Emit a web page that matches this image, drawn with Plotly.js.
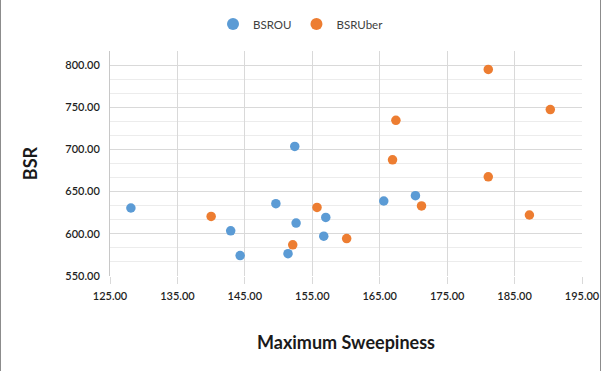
<!DOCTYPE html>
<html>
<head>
<meta charset="utf-8">
<script src="https://cdn.plot.ly/plotly-3.0.1.min.js"></script>
<style>
html,body{margin:0;padding:0;background:#fff;}
#chart{width:602px;height:371px;}
</style>
</head>
<body>
<div id="chart"></div>
<script>
// Series: BSROU
const ouSweep = [128.1, 142.9, 144.3, 149.6, 151.4, 152.4, 152.6, 156.7, 157.0, 165.6, 170.3];
const ouBSR   = [630.6, 603.6, 574.2, 635.7, 576.5, 703.6, 612.7, 597.2, 619.4, 638.9, 645.2];
// Series: BSRUber
const uberSweep = [140.0, 152.1, 155.7, 160.1, 166.9, 167.4, 171.2, 181.1, 181.1, 187.2, 190.3];
const uberBSR   = [620.6, 586.9, 631.3, 594.4, 687.7, 734.5, 633.0, 794.8, 667.5, 622.3, 747.2];

const seriesNames = ['BSROU', 'BSRUber'];
const xTitle = 'Maximum Sweepiness';
const yTitle = 'BSR';

const W = 602, H = 371;
const M = {l: 110, r: 20, t: 51, b: 95};
const pw = W - M.l - M.r, ph = H - M.t - M.b;

const traces = [
  {x: ouSweep, y: ouBSR, name: seriesNames[0], type: 'scatter', mode: 'markers',
   marker: {color: '#5B9BD5', size: 9.5}},
  {x: uberSweep, y: uberBSR, name: seriesNames[1], type: 'scatter', mode: 'markers',
   marker: {color: '#ED7D31', size: 9.5}}
];

const tickFont = {family: 'Lato, "Open Sans", sans-serif', size: 11, color: '#1f1f1f', weight: 600};

const layout = {
  width: W, height: H,
  margin: M,
  paper_bgcolor: '#ffffff',
  plot_bgcolor: '#ffffff',
  showlegend: true,
  legend: {
    orientation: 'h', xref: 'container', yref: 'container',
    x: 0.5, xanchor: 'center', y: 1 - 24/H, yanchor: 'middle',
    font: {family: 'Lato, "Open Sans", sans-serif', size: 11.5, color: '#404040'},
    itemwidth: 30, itemsizing: 'constant'
  },
  xaxis: {
    range: [125, 195], dtick: 10, tick0: 125, tickformat: '.2f',
    showgrid: true, gridcolor: '#d9d9d9', gridwidth: 1,
    zeroline: false, showline: false,
    ticks: 'outside', ticklen: 7, tickcolor: '#d9d9d9', ticklabelstandoff: 3,
    tickfont: tickFont,
    title: {text: xTitle, font: {family: 'Lato, "Open Sans", sans-serif', size: 18, color: '#1a1a1a', weight: 'bold'}, standoff: 35},
    automargin: false
  },
  yaxis: {
    range: [550, 550 + 800/3], dtick: 50, tick0: 550, tickformat: '.2f',
    showgrid: true, gridcolor: '#d9d9d9', gridwidth: 1,
    minor: {dtick: 50/3, tick0: 550, showgrid: true, gridcolor: '#ececec', gridwidth: 1},
    zeroline: false, showline: true, linecolor: '#c8c8c8', linewidth: 1,
    ticks: '', ticklabelstandoff: 7,
    tickfont: tickFont,
    title: {text: yTitle, font: {family: 'Lato, "Open Sans", sans-serif', size: 18, color: '#1a1a1a', weight: 'bold'}, standoff: 22},
    automargin: false
  },
  shapes: [
    {type: 'line', xref: 'paper', yref: 'paper',
     x0: (0.5 - M.l)/pw, x1: (0.5 - M.l)/pw, y0: -M.b/ph, y1: 1 + M.t/ph,
     line: {color: '#8c8c8c', width: 1}},
    {type: 'line', xref: 'paper', yref: 'paper',
     x0: (W - 1.5 - M.l)/pw, x1: (W - 1.5 - M.l)/pw, y0: -M.b/ph, y1: 1 + M.t/ph,
     line: {color: '#8c8c8c', width: 1}}
  ]
};

Plotly.newPlot('chart', traces, layout, {displayModeBar: false, staticPlot: true});
</script>
</body>
</html>
